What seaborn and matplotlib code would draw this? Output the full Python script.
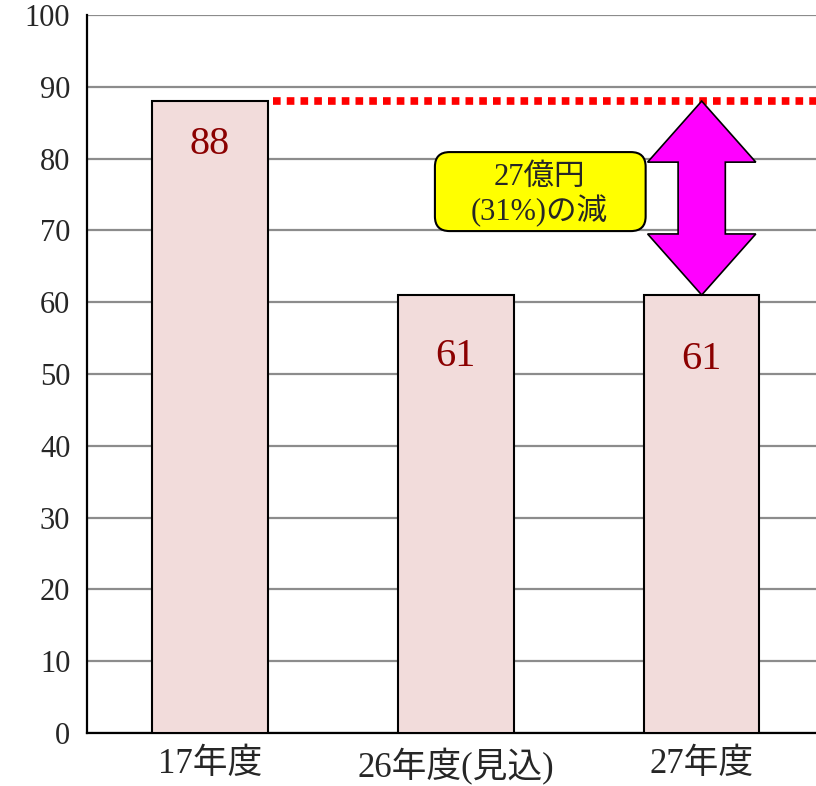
import numpy as np
import pandas as pd
import matplotlib
matplotlib.use("Agg")
import matplotlib.pyplot as plt
import matplotlib.patches as mpatches
import seaborn as sns

# chart data
categories = ["17年度", "26年度(見込)", "27年度"]
values = [88, 61, 61]
note_lines = ["27億円", "(31%)の減"]

sns.set_style("white")
plt.rcParams['font.family'] = ['Liberation Serif', 'Noto Sans CJK JP']

df = pd.DataFrame({"year": categories, "value": values})

fig = plt.figure(figsize=(8.16, 7.86), dpi=100)
ax = fig.add_axes([0.1066, 0.0674, 0.904, 0.9136])

sns.barplot(data=df, x="year", y="value", color="#f2dcdb", saturation=1,
            edgecolor="black", linewidth=1.5, width=0.47, ax=ax, zorder=3)

ax.set_ylim(0, 100)
ax.set_xlim(-0.5, 2.5)
ax.set_yticks(np.arange(0, 101, 10))
ax.yaxis.grid(True, color="#8c8c8c", linewidth=1.6, zorder=0)
ax.set_axisbelow(True)
ax.set_xlabel("")
ax.set_ylabel("")
for s in ["top", "right"]:
    ax.spines[s].set_visible(False)
for s in ["left", "bottom"]:
    ax.spines[s].set_color("black")
    ax.spines[s].set_linewidth(1.6)

ax.tick_params(axis="y", direction="in", length=6, width=1.5, labelsize=22, pad=12)
ax.tick_params(axis="x", which="major", length=0, labelsize=25, pad=11)
ax.set_xticks([0.5, 1.5], minor=True)
ax.tick_params(axis="x", which="minor", direction="in", length=6, width=1.5)

# value labels (offset below bar top)
label_drop = [6, 8.5, 9]
for i, v in enumerate(values):
    ax.text(i, v - label_drop[i], str(v), ha="center", va="center", fontsize=29,
            color="#8b0000", zorder=5)

# red dotted reference line at first bar height
ax.plot([0.255, 2.5], [values[0], values[0]], color="red", linewidth=5.5,
        linestyle=(0, (1, 0.8)), zorder=4)

# magenta double arrow between first and last values
xc = 2
top, bot = values[0], values[-1]
hw, sw, hl = 0.22, 0.096, 8.5
arrow = mpatches.Polygon([
    (xc, top), (xc + hw, top - hl), (xc + sw, top - hl), (xc + sw, bot + hl),
    (xc + hw, bot + hl), (xc, bot), (xc - hw, bot + hl), (xc - sw, bot + hl),
    (xc - sw, top - hl), (xc - hw, top - hl)],
    closed=True, facecolor="#ff00ff", edgecolor="black", linewidth=1.2, zorder=5)
ax.add_patch(arrow)

# yellow note box
box = mpatches.FancyBboxPatch((0.915, 69.9), 0.857, 11.0,
                              boxstyle="round,pad=0,rounding_size=0.06",
                              mutation_aspect=34, facecolor="yellow",
                              edgecolor="black", linewidth=1.5, zorder=6)
ax.add_patch(box)
ax.text(1.34, 74.9, "\n".join(note_lines), ha="center", va="center",
        fontsize=22, linespacing=1.1, zorder=7)

fig.savefig("out.png", dpi=100)
